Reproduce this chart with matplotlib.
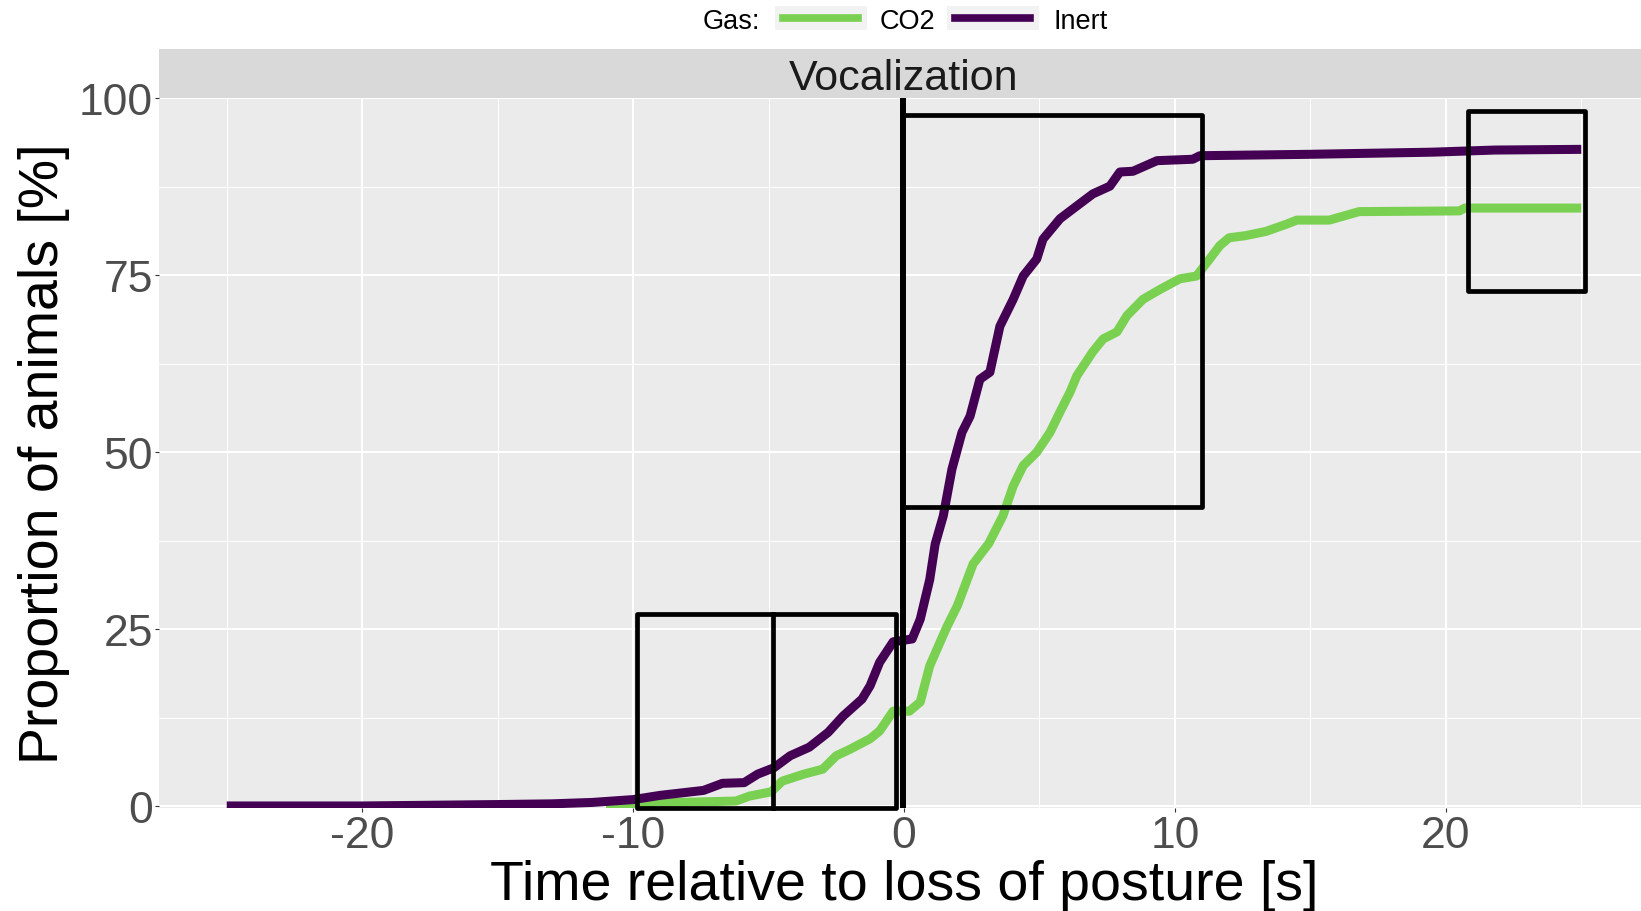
import matplotlib.pyplot as plt
from matplotlib.patches import Rectangle
from matplotlib.lines import Line2D

plt.rcParams['font.family'] = ['Liberation Sans', 'DejaVu Sans']
plt.rcParams['axes.unicode_minus'] = False

# cumulative proportion of animals vocalizing, time relative to loss of posture
time_inert = [-25, -20, -17.5, -15, -13, -11.5, -10, -9, -7.4, -6.7, -5.9, -5.4, -4.8,
              -4.2, -3.5, -2.8, -2.25, -1.55, -1.25, -0.9, -0.4, 0.3, 0.6, 0.95, 1.15,
              1.45, 1.77, 2.14, 2.44, 2.8, 3.17, 3.54, 4.03, 4.4, 4.9, 5.13, 5.76, 6.38,
              6.97, 7.6, 7.97, 8.45, 9.34, 10.66, 10.92, 15, 19.5, 21.8, 25]
pct_inert = [0, 0, 0.1, 0.2, 0.3, 0.5, 0.9, 1.5, 2.2, 3.2, 3.3, 4.5, 5.4,
             7.1, 8.3, 10.4, 12.7, 15.1, 17, 20.3, 23.2, 23.6, 26.4, 32, 37,
             41, 47.6, 52.8, 55.1, 60.3, 61.3, 67.8, 71.6, 74.9, 77.3, 80.1, 83, 84.8,
             86.5, 87.6, 89.6, 89.7, 91.2, 91.4, 91.9, 92.1, 92.4, 92.7, 92.8]

time_co2 = [-11, -10, -9.4, -6.2, -5.7, -4.9, -4.5, -3.7, -3.0, -2.5, -2.0, -1.25, -0.9,
            -0.4, 0.2, 0.6, 0.95, 1.2, 1.58, 1.97, 2.55, 3.13, 3.65, 4.03, 4.4, 4.9,
            5.39, 5.76, 6.13, 6.38, 6.97, 7.35, 7.86, 8.23, 8.82, 9.45, 10.18, 10.8,
            11.66, 12, 12.6, 13.36, 14.1, 14.5, 15.7, 16.25, 16.8, 20.5, 20.7, 25]
pct_co2 = [0, 0.1, 0.4, 0.7, 1.4, 2.0, 3.5, 4.5, 5.2, 7.1, 8.0, 9.5, 10.6,
           13.4, 13.4, 14.7, 19.8, 22, 25.3, 28.3, 34.2, 37.1, 41, 45.2, 48.1, 50,
           52.8, 55.7, 58.5, 60.8, 64.2, 66, 67, 69.3, 71.6, 73, 74.5, 74.9,
           79.2, 80.3, 80.6, 81.2, 82.2, 82.8, 82.8, 83.4, 84, 84.1, 84.5, 84.5]

gas_labels = ['CO2', 'Inert']
gas_colors = ['#7AD151', '#440154']
x_ticks = [-20, -10, 0, 10, 20]
x_minor = [-25, -15, -5, 5, 15, 25]
y_ticks = [0, 25, 50, 75, 100]
y_minor = [12.5, 37.5, 62.5, 87.5]

# highlighted windows: (x0, y0, x1, y1)
boxes = [(-9.85, -0.33, -0.31, 27.1), (-0.07, 42.2, 11.0, 97.65), (20.82, 72.74, 25.13, 98.27)]

W, H = 1641, 912
fig = plt.figure(figsize=(W / 100, H / 100), dpi=100)


def fx(px):
    return px / W


def fy(py):
    return 1 - py / H


ax = fig.add_axes([fx(159), fy(809.3), (1649 - 159) / W, (809.3 - 99.4) / H])
ax.set_facecolor('#EBEBEB')
ax.set_xlim(-27.5, 27.5)
ax.set_ylim(-0.33, 100)
ax.set_xticks(x_ticks)
ax.set_xticks(x_minor, minor=True)
ax.set_yticks(y_ticks)
ax.set_yticks(y_minor, minor=True)
ax.grid(which='major', color='white', lw=1.5)
ax.grid(which='minor', color='white', lw=0.75)
ax.set_axisbelow(True)
for s in ax.spines.values():
    s.set_visible(False)
ax.tick_params(which='minor', length=0)
ax.tick_params(which='major', length=3, width=0.8, color='#333333',
               labelsize=32, labelcolor='#4D4D4D', pad=1.5)

ax.plot(time_co2, pct_co2, color=gas_colors[0], lw=6.5,
        solid_joinstyle='round', solid_capstyle='butt')
ax.plot(time_inert, pct_inert, color=gas_colors[1], lw=6.5,
        solid_joinstyle='round', solid_capstyle='butt')

ax.axvline(-0.05, color='black', lw=4.3)
for x0, y0, x1, y1 in boxes:
    ax.add_patch(Rectangle((x0, y0), x1 - x0, y1 - y0, fill=False, ec='black',
                           lw=3.4, joinstyle='round', clip_on=False, zorder=5))
ax.plot([-4.83, -4.83], [-0.33, 27.1], color='black', lw=3.4, clip_on=False, zorder=5)

# facet strip
sax = fig.add_axes([fx(159), fy(99.4), (1649 - 159) / W, (99.4 - 50) / H])
sax.set_facecolor('#D9D9D9')
sax.set_xticks([])
sax.set_yticks([])
for s in sax.spines.values():
    s.set_visible(False)
fig.text(fx(904), fy(89.5), 'Vocalization', ha='center', va='baseline',
         fontsize=31, color='#1A1A1A')

fig.text(fx(904), fy(900), 'Time relative to loss of posture [s]', ha='center',
         va='baseline', fontsize=40, color='black')
fig.text(fx(44), fy(454), 'Proportion of animals [%]', ha='center', va='center',
         rotation=90, fontsize=40, color='black')

# legend on top
fig.text(fx(703), fy(29.3), 'Gas:', ha='left', va='baseline', fontsize=19.5)
key_x = [(775, 867), (947, 1039)]
label_x = [880, 1054]
for (k0, k1), lx, lab, col in zip(key_x, label_x, gas_labels, gas_colors):
    fig.patches.append(Rectangle((fx(k0), fy(30.7)), (k1 - k0) / W, 24 / H,
                                 transform=fig.transFigure, fc='#F2F2F2', ec='none'))
    fig.lines.append(Line2D([fx(k0 + 8), fx(k1 - 9)], [fy(19), fy(19)],
                            transform=fig.transFigure, color=col, lw=5.5))
    fig.text(fx(lx), fy(29.3), lab, ha='left', va='baseline', fontsize=19.5)

fig.savefig('out.png', dpi=100)
